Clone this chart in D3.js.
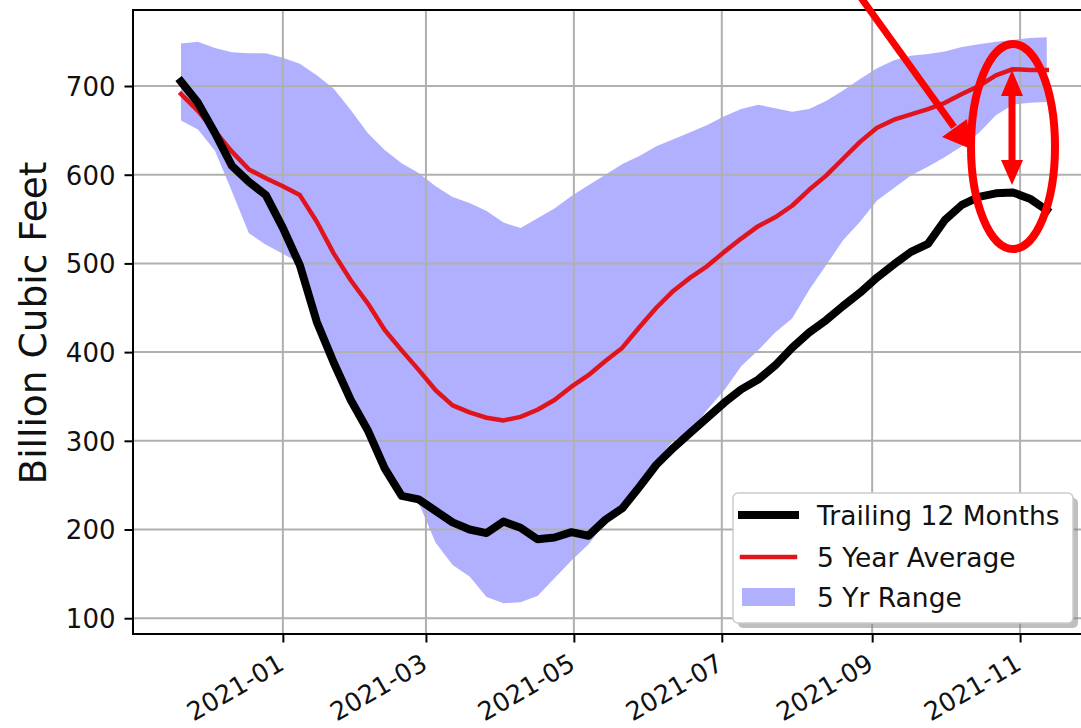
<!DOCTYPE html>
<html>
  <head>
    <meta charset="utf-8">
    <title>Storage vs 5 year range</title>
    <script src="https://d3js.org/d3.v7.min.js"></script>
    <style>
      body { margin: 0; background: #fff; }
      svg { display: block; font-family: "DejaVu Sans", sans-serif; }
    </style>
  </head>
  <body>
    <div id="chart"></div>

    <script>
        // weekly readings
        const weeks = ["2020-11-20","2020-11-27","2020-12-04","2020-12-11","2020-12-18","2020-12-25",
            "2021-01-01","2021-01-08","2021-01-15","2021-01-22","2021-01-29","2021-02-05","2021-02-12",
            "2021-02-19","2021-02-26","2021-03-05","2021-03-12","2021-03-19","2021-03-26","2021-04-02",
            "2021-04-09","2021-04-16","2021-04-23","2021-04-30","2021-05-07","2021-05-14","2021-05-21",
            "2021-05-28","2021-06-04","2021-06-11","2021-06-18","2021-06-25","2021-07-02","2021-07-09",
            "2021-07-16","2021-07-23","2021-07-30","2021-08-06","2021-08-13","2021-08-20","2021-08-27",
            "2021-09-03","2021-09-10","2021-09-17","2021-09-24","2021-10-01","2021-10-08","2021-10-15",
            "2021-10-22","2021-10-29","2021-11-05","2021-11-12"]

        const trailing = [705, 681, 647, 610, 592, 577, 540, 498, 434, 388, 346, 312, 269, 238,
            234, 221, 208, 200, 196, 209, 202, 189, 191, 197, 193, 211, 224, 248, 273, 292, 309,
            326, 343, 358, 369, 385, 405, 422, 436, 452, 467, 484, 499, 513, 522, 549, 566, 575,
            579, 580, 573, 560]

        const fiveYearAvg = [691, 672, 649, 626, 606, 596, 587, 577, 547, 511, 481, 455, 425, 402,
            380, 357, 340, 332, 326, 323, 327, 335, 346, 361, 374, 390, 405, 428, 450, 469, 484,
            497, 513, 528, 542, 552, 565, 583, 599, 618, 637, 653, 662, 668, 674, 681, 691, 700,
            712, 719, 718, 718]

        const rangeLow = [661, 651, 627, 581, 534, 521, 511, 500, 438, 392, 350, 316, 272, 241,
            230, 185, 160, 147, 124, 117, 118, 125, 145, 165, 183, 208, 229, 254, 278, 300, 310,
            335, 357, 384, 402, 422, 438, 470, 498, 526, 547, 571, 585, 599, 609, 620, 632, 647,
            667, 679, 681, 682]

        const rangeHigh = [748, 750, 743, 738, 737, 737, 732, 725, 712, 697, 673, 647, 628, 613,
            602, 587, 575, 568, 559, 546, 540, 551, 562, 576, 588, 600, 612, 621, 632, 640, 648,
            656, 666, 674, 679, 675, 671, 674, 683, 695, 708, 720, 729, 734, 736, 739, 744, 747,
            750, 752, 754, 755]

        const yTicks = [100, 200, 300, 400, 500, 600, 700]
        const xTickLabels = ["2021-01", "2021-03", "2021-05", "2021-07", "2021-09", "2021-11"]
        const legendLabels = ["Trailing 12 Months", "5 Year Average", "5 Yr Range"]

        const W = 1081, H = 728,
              plot = { left: 133, right: 1088, top: 10, bottom: 634 },
              parseDay = d3.timeParse("%Y-%m-%d"),
              fmtMonth = d3.timeFormat("%Y-%m")

        let rows = weeks.map((w, i) => ({
            date: parseDay(w),
            trailing: trailing[i],
            avg: fiveYearAvg[i],
            lo: rangeLow[i],
            hi: rangeHigh[i]
        }))

        let x = d3.scaleTime()
                .domain([new Date(2020, 9, 31, 5), new Date(2021, 10, 29)])
                .range([plot.left, plot.right]),
            y = d3.scaleLinear()
                .domain([82.2, 785.7])
                .range([plot.bottom, plot.top])

        let svg = d3.select("#chart").append("svg")
            .attr("width", W)
            .attr("height", H)

        svg.append("rect").attr("width", W).attr("height", H).attr("fill", "#fff")

        // 5 yr band
        let area = d3.area()
            .x(d => x(d.date))
            .y0(d => y(d.lo))
            .y1(d => y(d.hi))

        svg.append("path")
            .datum(rows)
            .attr("d", area)
            .attr("fill", "blue")
            .attr("fill-opacity", 0.31)

        // grid
        let xTickDates = xTickLabels.map(s => parseDay(s + "-01"))

        svg.append("g").selectAll("line")
            .data(yTicks)
            .join("line")
            .attr("x1", plot.left).attr("x2", plot.right)
            .attr("y1", d => y(d)).attr("y2", d => y(d))
            .attr("stroke", "#b0b0b0").attr("stroke-width", 2)

        svg.append("g").selectAll("line")
            .data(xTickDates)
            .join("line")
            .attr("x1", d => x(d)).attr("x2", d => x(d))
            .attr("y1", plot.top).attr("y2", plot.bottom)
            .attr("stroke", "#b0b0b0").attr("stroke-width", 2)

        // lines
        let line = key => d3.line().x(d => x(d.date)).y(d => y(d[key]))

        svg.append("path")
            .datum(rows)
            .attr("d", line("avg"))
            .attr("fill", "none")
            .attr("stroke", "#e0141c")
            .attr("stroke-width", 4.5)
            .attr("stroke-linejoin", "round")
            .attr("stroke-linecap", "square")

        svg.append("path")
            .datum(rows)
            .attr("d", line("trailing"))
            .attr("fill", "none")
            .attr("stroke", "#000")
            .attr("stroke-width", 8)
            .attr("stroke-linejoin", "round")
            .attr("stroke-linecap", "square")

        // axes
        let yAxis = d3.axisLeft(y).tickValues(yTicks).tickSize(8.5).tickPadding(9),
            xAxis = d3.axisBottom(x).tickValues(xTickDates).tickFormat(fmtMonth).tickSize(8.5).tickPadding(9)

        let gy = svg.append("g").attr("transform", `translate(${plot.left},0)`).call(yAxis)
        gy.select(".domain").remove()
        gy.selectAll("line").attr("stroke", "#000").attr("stroke-width", 2)
        gy.selectAll("text")
            .attr("font-size", 26)
            .attr("font-family", "DejaVu Sans")
            .attr("fill", "#111")
            .attr("dy", "0.36em")

        let gx = svg.append("g").attr("transform", `translate(0,${plot.bottom})`).call(xAxis)
        gx.select(".domain").remove()
        gx.selectAll("line").attr("stroke", "#000").attr("stroke-width", 2)
        gx.selectAll("text")
            .attr("font-size", 25.5)
            .attr("font-family", "DejaVu Sans")
            .attr("fill", "#111")
            .attr("text-anchor", "end")
            .attr("y", 0).attr("dy", 0)
            .attr("transform", "translate(2.5,34.5) rotate(-30)")

        // spines (left, bottom, top; right one falls off the picture)
        svg.append("path")
            .attr("d", `M${plot.right},${plot.top}H${plot.left}V${plot.bottom}H${plot.right}`)
            .attr("fill", "none")
            .attr("stroke", "#000")
            .attr("stroke-width", 2)

        // y label
        svg.append("text")
            .attr("transform", `translate(46,323) rotate(-90)`)
            .attr("text-anchor", "middle")
            .attr("font-size", 37.5)
            .attr("fill", "#111")
            .text("Billion Cubic Feet")

        // legend with shadow
        let lg = svg.append("g").attr("transform", "translate(733,493)"),
            lw = 340, lh = 130

        lg.append("rect")
            .attr("x", 5).attr("y", 5).attr("width", lw).attr("height", lh).attr("rx", 5)
            .attr("fill", "#7f7f7f").attr("fill-opacity", 0.5)
        lg.append("rect")
            .attr("width", lw).attr("height", lh).attr("rx", 5)
            .attr("fill", "#fff")
            .attr("stroke", "#cccccc").attr("stroke-width", 1.5)

        let rowY = [22, 64, 104]
        lg.append("line").attr("x1", 9).attr("x2", 62).attr("y1", rowY[0]).attr("y2", rowY[0])
            .attr("stroke", "#000").attr("stroke-width", 8).attr("stroke-linecap", "square")
        lg.append("line").attr("x1", 9).attr("x2", 62).attr("y1", rowY[1]).attr("y2", rowY[1])
            .attr("stroke", "#e0141c").attr("stroke-width", 4.5).attr("stroke-linecap", "square")
        lg.append("rect").attr("x", 9).attr("y", rowY[2] - 9).attr("width", 53).attr("height", 18)
            .attr("fill", "blue").attr("fill-opacity", 0.31)

        lg.selectAll("text.lab")
            .data(legendLabels)
            .join("text")
            .attr("class", "lab")
            .attr("x", 84)
            .attr("y", (d, i) => rowY[i])
            .attr("dy", "0.36em")
            .attr("font-size", 26.5)
            .attr("fill", "#111")
            .text(d => d)

        // red annotation: arrow, ellipse and double arrow
        let red = "#ff0000",
            ann = svg.append("g")

        ann.append("line")
            .attr("x1", 859).attr("y1", -5).attr("x2", 954).attr("y2", 127)
            .attr("stroke", red).attr("stroke-width", 7)
        ann.append("polygon")
            .attr("points", "942,137 967,119 971,149")
            .attr("fill", red)

        ann.append("ellipse")
            .attr("cx", 1013).attr("cy", 146.5).attr("rx", 42).attr("ry", 102.5)
            .attr("fill", "none").attr("stroke", red).attr("stroke-width", 8)

        ann.append("line")
            .attr("x1", 1012).attr("y1", 90).attr("x2", 1012).attr("y2", 165)
            .attr("stroke", red).attr("stroke-width", 7)
        ann.append("polygon").attr("points", "1012,70 1001,96 1023,96").attr("fill", red)
        ann.append("polygon").attr("points", "1012,185 1001,160 1023,160").attr("fill", red)
    </script>
  </body>
</html>
